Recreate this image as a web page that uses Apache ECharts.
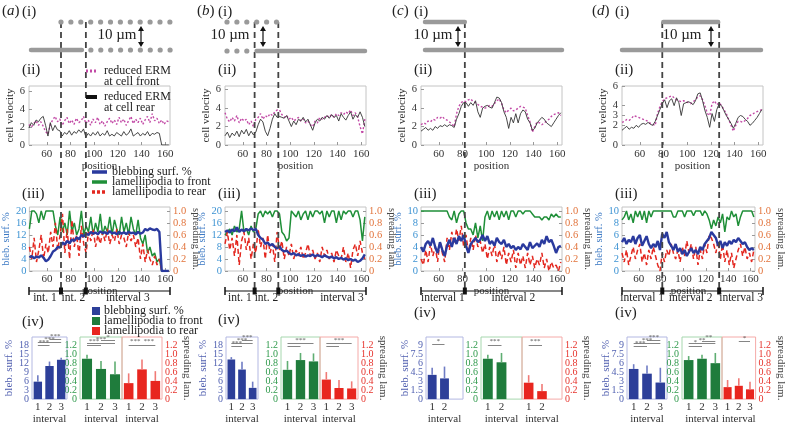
<!DOCTYPE html>
<html><head><meta charset="utf-8">
<script src="https://cdn.jsdelivr.net/npm/echarts@6/dist/echarts.min.js"></script>
<style>html,body{margin:0;padding:0;background:#fff}#c{width:787px;height:426px}</style>
</head><body><div id="c"></div>
<script>
const FONT = '"Liberation Serif","Times New Roman",serif';

// ---------- DATA ----------
const positions = [45,47,49,51,53,55,57,59,61,63,65,67,69,71,73,75,77,79,81,83,
  85,87,89,91,93,95,97,99,101,103,105,107,109,111,113,115,117,119,121,123,
  125,127,129,131,133,135,137,139,141,143,145,147,149,151,153,155,157,159,161,163];
const positionTicks = [60,80,100,120,140,160];

// (a)
const velRearA = [1.9,2.5,2.2,2.8,2.6,3.0,3.2,2.2,1.0,2.5, 1.6,2.2,1.7,1.6,1.0,1.4,1.2,1.6,1.1,1.5,
  1.3,1.7,1.4,1.8,0.9,1.3,1.0,1.4,1.1,1.5, 1.0,1.3,1.1,1.6,1.0,1.2,1.0,1.4,1.2,1.0,
  1.5,1.1,1.3,1.8,1.0,1.2,1.4,1.0,1.3,1.1, 1.5,1.0,1.3,1.2,1.4,1.3,0,0,0,0];
const velFrontA = [2.3,2.0,2.4,2.7,2.2,2.6,2.1,1.5,1.2,2.3, 2.8,3.2,2.6,2.9,2.2,2.7,3.1,2.4,2.8,2.3,
  3.0,2.5,2.7,3.2,2.4,2.8,2.2,2.9,2.5,3.1, 2.3,2.7,2.1,2.6,3.0,2.4,2.8,2.3,3.1,2.5,
  2.9,2.2,2.7,3.2,2.4,2.9,2.5,3.0,2.3,2.8, 3.2,2.5,3.5,2.7,3.0,2.4,2.8,2.3,2.7,2.6];
const blebA = [4.5,5.0,4.2,4.8,4.5,5.2,4.4,3.2,3.8,5.0, 6.5,7.0,8.0,7.8,9.5,8.8,10.0,9.2,10.5,10.0,
  11.2,10.5,12.0,11.5,12.5,12.0,13.0,12.4,12.8,12.2, 13.2,12.6,12.9,12.3,13.3,12.5,12.8,12.2,13.0,12.4,
  12.9,12.3,13.1,12.6,12.8,12.2,13.0,12.4,12.8,14.0, 13.5,14.2,13.8,13.6,14.0,13.0,0,0,0,0];
const lamFrontA = [0.7,1.0,1.0,0.95,0.8,1.0,0.85,1.0,1.0,1.0, 1.0,0.75,0.6,0.9,0.65,0.8,0.6,1.0,0.65,0.8,
  0.6,0.7,1.0,0.6,0.75,0.65,0.9,0.6,0.8,0.65, 0.95,0.6,0.75,0.65,0.9,0.6,0.85,0.7,0.6,0.9,
  0.65,0.8,0.6,0.9,0.7,0.6,0.85,0.55,0.45,0.6, 0.3,0.4,0.25,0.3,0.15,0.2,0,0,0,0];
const lamRearA = [0.4,0.2,0.55,0.15,0.35,0.6,0.2,0.45,0.3,0.65, 0.4,0.8,0.35,0.6,0.95,0.3,0.7,0.2,0.85,0.4,
  0.6,0.25,0.75,0.45,0.3,0.65,0.5,0.7,0.4,0.6, 0.45,0.65,0.5,0.7,0.45,0.6,0.5,0.7,0.45,0.6,
  0.55,0.4,0.65,0.5,0.6,0.4,0.55,0.2,0.45,0.15, 0.35,0.2,0.1,0.25,0.1,0.2,0,0,0,0];
// (b)
const velRearB = [1.0,1.4,0.8,1.3,1.0,1.5,0.9,1.6,1.2,1.7, 1.0,1.5,1.1,1.4,2.2,2.8,2.5,1.5,1.0,1.8,
  2.8,3.4,3.0,3.1,3.0,2.9,3.2,2.6,2.0,2.6, 2.2,2.8,2.6,3.0,2.5,2.8,2.2,1.6,2.4,2.8,
  2.6,3.0,2.8,3.2,2.9,3.3,3.0,3.2,2.6,3.4, 3.0,2.7,3.2,3.6,2.8,3.3,3.0,3.6,3.0,2.0];
const velFrontB = [3.5,2.8,2.5,3.0,2.6,3.2,2.4,2.9,2.6,2.8, 2.2,2.6,2.0,2.8,3.0,3.4,2.8,3.2,3.0,3.4,
  3.2,3.6,3.8,3.8,3.3,3.0,3.2,2.8,3.0,2.6, 2.8,3.0,2.6,2.8,2.4,2.6,2.2,2.0,2.6,2.4,
  3.0,2.8,3.0,3.2,3.0,3.3,3.0,3.4,3.2,3.5, 3.3,3.6,3.4,3.8,3.2,3.5,3.0,2.0,1.2,2.8];
const blebB = [13.0,13.5,12.8,13.8,13.2,14.5,13.0,13.8,13.2,14.0, 13.5,14.2,13.6,14.0,12.0,11.0,10.5,9.0,9.5,8.5,
  9.0,8.0,7.5,8.2,7.0,6.5,6.8,6.0,5.5,6.0, 5.2,5.6,5.0,5.4,4.8,5.2,5.0,5.5,4.8,5.3,
  5.0,4.6,5.2,4.8,4.4,4.8,4.2,4.6,4.0,4.4, 3.8,4.2,3.6,4.0,3.4,3.8,3.0,3.4,4.2,5.5];
const lamFrontB = [0.6,0.65,0.7,0.6,0.75,0.65,0.7,1.0,0.65,0.7, 0.6,0.75,0.65,0.7,0.95,1.0,0.9,1.0,0.95,1.0,
  0.9,1.0,1.0,0.95,0.65,0.6,0.5,0.55,1.0,0.95, 0.9,1.0,0.85,0.95,1.0,0.85,1.0,0.9,1.0,1.0,
  0.95,1.0,0.8,1.0,0.9,1.0,1.0,0.8,1.0,0.85, 1.0,0.95,1.0,1.0,0.9,1.0,1.0,0.85,0.5,0.9];
const lamRearB = [0.45,0.65,0.35,0.55,0.25,0.6,0.1,0.5,0.65,0.35, 0.55,0.2,0.45,0.3,0.7,0.4,0.55,0.2,0.6,0.3,
  0.45,0.15,0.65,0.35,0.5,0.2,0.4,0.25,0.45,0.2, 0.35,0.25,0.4,0.2,0.3,0.45,0.25,0.35,0.2,0.3,
  0.15,0.4,0.25,0.35,0.2,0.3,0.15,0.35,0.25,0.2, 0.4,0.15,0.3,0.05,0.35,0.45,0.25,0.5,0.3,0.2];
// (c)
const velRearC = [1.5,1.7,1.9,1.6,1.8,1.6,2.0,1.8,2.1,2.0, 2.2,2.0,2.2,2.1,1.9,2.8,3.4,4.2,4.6,4.6,
  4.2,4.6,4.3,4.8,3.6,3.0,4.0,4.2,4.3,4.1, 4.0,4.6,5.2,5.1,4.6,3.6,3.0,1.8,3.0,2.4,
  3.4,2.4,3.4,3.8,3.6,2.8,2.4,1.6,1.8,2.4, 2.7,3.0,2.8,2.4,2.2,2.0,2.4,2.8,3.2,3.5];
const velFrontC = [2.2,2.4,2.3,2.6,2.5,2.8,2.7,3.0,2.9,3.1, 2.8,2.7,2.5,2.3,2.0,3.4,4.2,4.6,4.8,4.7,
  4.9,5.0,4.7,4.6,4.4,4.2,4.1,4.0,4.1,4.3, 4.2,4.5,4.8,5.0,4.5,3.8,3.5,3.8,4.0,3.7,
  3.8,4.0,4.2,4.1,4.0,3.2,2.5,1.4,2.0,2.5, 2.4,2.2,2.4,2.6,2.8,3.1,3.3,3.4,3.5,3.2];
const blebC = [4.0,3.2,4.5,5.0,4.2,5.5,4.0,3.0,4.8,3.5, 2.5,4.2,5.2,4.0,5.5,4.5,5.8,5.0,6.0,4.2,
  3.0,4.5,5.0,5.5,4.8,5.2,6.0,5.0,5.8,4.5, 5.0,4.2,5.5,4.8,4.5,5.2,4.0,4.5,3.8,4.2,
  3.5,4.0,3.6,4.5,4.0,3.5,4.8,3.8,4.2,4.6, 4.0,5.2,4.5,5.8,4.8,5.2,4.2,3.0,4.0,4.2];
const lamFrontC = [1.0,1.0,1.0,1.0,1.0,1.0,1.0,1.0,1.0,1.0, 1.0,1.0,0.9,0.85,1.0,0.8,0.95,1.0,1.0,0.8,
  0.7,0.7,0.6,0.8,0.55,0.75,0.5,0.9,1.0,0.85, 1.0,0.9,1.0,0.85,1.0,0.9,1.0,0.85,1.0,1.0,
  0.9,1.0,1.0,0.95,1.0,1.0,1.0,0.95,0.9,0.9, 0.9,0.85,0.9,0.9,0.85,0.95,0.9,0.95,0.9,0.9];
const lamRearC = [0.2,0.1,0.35,0.15,0.45,0.25,0.4,0.15,0.5,0.3, 0.15,0.55,0.35,0.65,0.45,0.7,0.5,0.75,0.4,0.6,
  0.3,0.55,0.35,0.6,0.4,0.5,0.3,0.45,0.2,0.4, 0.25,0.45,0.15,0.35,0.2,0.4,0.1,0.3,0.15,0.35,
  0.05,0.3,0.1,0.25,0.05,0.3,0.1,0.25,0.05,0.2, 0.1,0.3,0.05,0.2,0.0,0.15,0.05,0.1,0.0,0.15];
// (d)
const velRearD = [1.5,1.7,1.9,1.6,1.8,1.7,2.0,1.8,2.1,2.2, 2.1,2.3,2.1,2.0,2.4,3.0,3.6,4.2,4.6,3.8,
  4.5,4.7,4.0,4.8,4.3,3.0,4.2,4.3,4.4,4.3, 4.1,4.5,5.2,5.3,4.5,3.5,2.8,1.8,3.2,2.4,
  3.6,4.2,4.0,3.5,3.0,2.6,2.2,1.7,2.2,2.8, 3.0,2.9,2.6,2.4,2.0,2.2,2.5,2.8,3.2,3.6];
const velFrontD = [2.3,2.4,2.6,2.5,2.7,3.0,2.9,2.8,2.7,2.6, 2.5,2.4,2.2,2.1,2.0,3.2,3.9,4.4,4.7,4.8,
  4.9,5.0,4.8,4.6,4.5,4.4,4.5,4.4,4.3,4.2, 4.4,4.6,4.9,5.0,4.6,4.0,3.2,3.0,4.2,4.5,
  4.1,4.3,4.0,3.6,3.2,2.6,2.0,1.4,2.0,2.4, 2.4,2.3,2.5,2.7,3.0,3.1,3.3,3.4,3.5,3.6];
const blebD = [4.8,5.5,4.5,5.2,4.8,5.8,4.5,5.5,6.0,4.2, 5.0,5.8,4.5,3.8,4.5,4.0,5.0,3.5,6.2,5.5,
  6.5,4.8,4.2,3.5,4.5,3.2,3.8,2.8,3.5,2.5, 3.2,3.8,3.0,3.5,2.8,4.0,3.5,4.5,5.0,5.5,
  6.5,6.0,5.5,4.2,5.0,3.8,4.8,4.2,5.0,4.5, 5.2,4.8,5.5,5.0,4.5,4.8,4.0,3.5,3.8,3.5];
const lamFrontD = [0.85,0.9,1.0,0.85,0.95,0.8,1.0,0.9,1.0,0.85, 1.0,0.8,1.0,0.9,1.0,1.0,1.0,1.0,1.0,1.0,
  1.0,1.0,1.0,0.9,0.9,1.0,1.0,1.0,0.9,1.0, 1.0,1.0,0.92,1.0,1.0,1.0,0.92,1.0,0.95,0.85,
  0.7,0.85,0.75,0.9,0.8,0.95,0.65,0.9,0.85,1.0, 0.9,0.95,0.75,0.9,1.0,1.0,1.0,1.0,1.0,0.9];
const lamRearD = [0.3,0.15,0.35,0.1,0.25,0.4,0.2,0.35,0.45,0.15, 0.3,0.1,0.35,0.2,0.4,0.25,0.1,0.0,0.3,0.15,
  0.35,0.25,0.45,0.3,0.2,0.35,0.15,0.4,0.25,0.5, 0.3,0.45,0.2,0.4,0.1,0.35,0.2,0.45,0.3,0.6,
  0.55,0.45,0.3,0.5,0.2,0.45,0.15,0.35,0.1,0.3, 0.05,0.2,0.35,0.45,0.25,0.4,0.2,0.3,0.15,0.35];

// interval boundaries (position units)
const boundsA = [72, 93];
const boundsB = [70, 90];
const boundsC = [82];
const boundsD = [79, 127];
const intLabelsA = ['int. 1', 'int. 2', 'interval 3'];
const intLabelsB = ['int. 1', 'int. 2', 'interval 3'];
const intLabelsC = ['interval 1', 'interval 2'];
const intLabelsD = ['interval 1', 'interval 2', 'interval 3'];

// bar charts (mean, upper error)
const intervalCats3 = ['1', '2', '3'];
const intervalCats2 = ['1', '2', ''];
const blebBarA = [5.9, 11.2, 13.3],  blebErrA = [8.1, 12.7, 14.0];
const frontBarA = [0.91, 0.68, 0.56], frontErrA = [1.0, 0.86, 0.85];
const rearBarA = [0.36, 0.67, 0.41],  rearErrA = [0.58, 0.89, 0.63];
const blebBarB = [13.4, 10.0, 3.8],  blebErrB = [14.2, 12.6, 5.9];
const frontBarB = [0.66, 0.88, 0.85], frontErrB = [0.86, 1.04, 1.03];
const rearBarB = [0.44, 0.25, 0.24],  rearErrB = [0.61, 0.43, 0.40];
const blebBarC = [4.1, 3.5],  blebErrC = [5.3, 5.5];
const frontBarC = [0.91, 0.83], frontErrC = [1.0, 1.04];
const rearBarC = [0.37, 0.18],  rearErrC = [0.54, 0.34];
const blebBarD = [5.1, 4.3, 2.8],  blebErrD = [5.9, 5.7, 5.3];
const frontBarD = [0.88, 0.91, 0.81], frontErrD = [0.97, 1.0, 1.04];
const rearBarD = [0.27, 0.30, 0.22],  rearErrD = [0.43, 0.47, 0.39];
// significance brackets [from, to, level, stars]
const sigBlebA = [[0,1,18.1,'***'],[0,2,19.2,'***'],[1,2,20.2,'***']];
const sigFrontA = [[0,1,1.22,'***'],[0,2,1.27,'***'],[1,2,1.32,'*']];
const sigRearA = [[0,1,1.22,'***'],[1,2,1.22,'***']];
const sigBlebB = [[0,1,17.8,'***'],[0,2,18.8,'***'],[1,2,19.8,'***']];
const sigFrontB = [[0,1,1.2,''],[0,2,1.26,'***']];
const sigRearB = [[0,1,1.2,''],[0,2,1.26,'***']];
const sigBlebC = [[0,1,9.2,'*']];
const sigFrontC = [[0,1,1.22,'***']];
const sigRearC = [[0,1,1.22,'***']];
const sigBlebD = [[0,1,8.9,'***'],[0,2,9.4,'***'],[1,2,9.9,'***']];
const sigFrontD = [[0,1,1.2,'*'],[0,2,1.26,'**'],[1,2,1.31,'**']];
const sigRearD = [[1,2,1.3,'*']];

// tick labels
const velTicks2 = [0,2,4,6];
const velTicks1 = [0,1,2,3,4,5,6];
const blebTicks20 = [0,4,8,12,16,20];
const blebTicks10 = [0,2,4,6,8,10];
const fracTicks10 = [0,0.2,0.4,0.6,0.8,1.0];
const barTicksBleb18 = [0,3,6,9,12,15,18];
const barTicksBleb9 = [0,1.5,3,4.5,6,7.5,9];
const barTicksFrac = [0,0.2,0.4,0.6,0.8,1.0,1.2];

// ---------- LAYOUT ----------
const cols = [
  {left:29, bounds:boundsA, ints:intLabelsA, velF:velFrontA, velR:velRearA, velMax:6.6, velTicks:velTicks2,
   bleb:blebA, lamF:lamFrontA, lamR:lamRearA, blebMax:21.3, blebTicks:blebTicks20,
   cats:intervalCats3, bars:[[blebBarA,blebErrA,sigBlebA],[frontBarA,frontErrA,sigFrontA],[rearBarA,rearErrA,sigRearA]],
   barBlebMax:21, barBlebTicks:barTicksBleb18, boxes:[[32,67],[80,122],[122,162]], ivY:322},
  {left:225, bounds:boundsB, ints:intLabelsB, velF:velFrontB, velR:velRearB, velMax:6.4, velTicks:velTicks2,
   bleb:blebB, lamF:lamFrontB, lamR:lamRearB, blebMax:21.3, blebTicks:blebTicks20,
   cats:intervalCats3, bars:[[blebBarB,blebErrB,sigBlebB],[frontBarB,frontErrB,sigFrontB],[rearBarB,rearErrB,sigRearB]],
   barBlebMax:21, barBlebTicks:barTicksBleb18, boxes:[[226,258],[281,320],[320,358]], ivY:320, lastLabelX:342},
  {left:421, bounds:boundsC, ints:intLabelsC, velF:velFrontC, velR:velRearC, velMax:6.4, velTicks:velTicks2,
   bleb:blebC, lamF:lamFrontC, lamR:lamRearC, blebMax:10.65, blebTicks:blebTicks10,
   cats:intervalCats2, bars:[[blebBarC,blebErrC,sigBlebC],[frontBarC,frontErrC,sigFrontC],[rearBarC,rearErrC,sigRearC]],
   barBlebMax:10.5, barBlebTicks:barTicksBleb9, boxes:[[426,463],[481,522],[522,562]], ivY:313},
  {left:622, bounds:boundsD, ints:intLabelsD, velF:velFrontD, velR:velRearD, velMax:6.0, velTicks:velTicks1,
   bleb:blebD, lamF:lamFrontD, lamR:lamRearD, blebMax:10.65, blebTicks:blebTicks10,
   cats:intervalCats3, bars:[[blebBarD,blebErrD,sigBlebD],[frontBarD,frontErrD,sigFrontD],[rearBarD,rearErrD,sigRearD]],
   barBlebMax:10.5, barBlebTicks:barTicksBleb9, boxes:[[627,667],[682,722],[722,763]], ivY:313}
];
const PW = 141;
const C = {
  blueBar:'#2d3f99', blueErr:'#6f7cc4', greenBar:'#1f7c3c', greenErr:'#5fae72', redBar:'#e8261f', redErr:'#f07a76',
  blueLine:'#2a3a9e', greenLine:'#1f8f38', redLine:'#e3271f', magenta:'#c24aa6', black:'#333',
  blueTick:'#3d93d3', orangeTick:'#e2743c', blueBarTick:'#5262b2', greenTick:'#2f9a4c', redTick:'#e6332c'
};
const fmt = v => (v === 0 ? '0' : (Number.isInteger(v) ? String(v) : v.toFixed(1)));
const fmtDec = v => (v === 0 ? '0' : v.toFixed(1));

const chart = echarts.init(document.getElementById('c'), null, {width:787, height:426});
const grid = [], xAxis = [], yAxis = [], series = [];
const velXIdx = [];
const TICK = 10.5, NAME = 11;

function lbl(color, extra) {
  return Object.assign({color: color, fontFamily: FONT, fontSize: TICK, hideOverlap:false, showMinLabel:true, showMaxLabel:true}, extra || {});
}
const nameStyle = (color) => ({fontFamily:FONT, fontSize:NAME, color:color || '#333'});

cols.forEach((c, ci) => {
  // (ii) velocity
  let gi = grid.length;
  grid.push({left:c.left, top:86, width:PW, height:59, show:true, borderColor:'#c4c4c4', borderWidth:1, backgroundColor:'transparent'});
  let xi = xAxis.length; velXIdx.push(xi);
  xAxis.push({type:'value', gridIndex:gi, min:45, max:164, splitLine:{show:false}, axisLine:{show:false},
    axisTick:{show:true, inside:true, length:3, customValues:positionTicks, lineStyle:{color:'#999'}},
    axisLabel:lbl('#333', {fontSize:11, margin:4, customValues:positionTicks, formatter:fmt}),
    name:'position', nameLocation:'middle', nameGap:12, nameTextStyle:nameStyle()});
  let yi = yAxis.length;
  yAxis.push({type:'value', gridIndex:gi, min:0, max:c.velMax, splitLine:{show:false}, axisLine:{show:false},
    axisTick:{show:true, inside:true, length:3, customValues:c.velTicks, lineStyle:{color:'#999'}},
    axisLabel:lbl('#333', {margin:4, customValues:c.velTicks, formatter:fmt}),
    name:'cell velocity', nameLocation:'middle', nameGap:12, nameTextStyle:nameStyle()});
  series.push({type:'line', xAxisIndex:xi, yAxisIndex:yi, showSymbol:false, data:positions.map((p,i)=>[p,c.velF[i]]),
    lineStyle:{color:C.magenta, width:1.4, type:[2,2]}, z:2});
  series.push({type:'line', xAxisIndex:xi, yAxisIndex:yi, showSymbol:false, data:positions.map((p,i)=>[p,c.velR[i]]),
    lineStyle:{color:C.black, width:0.9}, z:3});

  // (iii) blebbing / lamellipodia
  gi = grid.length;
  grid.push({left:c.left, top:207, width:PW, height:64, show:true, borderColor:'#c4c4c4', borderWidth:1, backgroundColor:'transparent'});
  xi = xAxis.length;
  xAxis.push({type:'value', gridIndex:gi, min:45, max:164, splitLine:{show:false}, axisLine:{show:false},
    axisTick:{show:true, inside:true, length:3, customValues:positionTicks, lineStyle:{color:'#999'}},
    axisLabel:lbl('#333', {fontSize:11, margin:3, customValues:positionTicks, formatter:fmt}),
    name:'position', nameLocation:'middle', nameGap:9, nameTextStyle:nameStyle()});
  const yl = yAxis.length;
  yAxis.push({type:'value', gridIndex:gi, min:0, max:c.blebMax, position:'left', splitLine:{show:false}, axisLine:{show:false},
    axisTick:{show:true, inside:true, length:3, customValues:c.blebTicks, lineStyle:{color:'#999'}},
    axisLabel:lbl(C.blueTick, {margin:3, customValues:c.blebTicks, formatter:fmt}),
    name:'bleb. surf. %', nameLocation:'middle', nameGap:16, nameTextStyle:Object.assign(nameStyle('#3a78c4'), {fontSize:10.5})});
  const yr = yAxis.length;
  yAxis.push({type:'value', gridIndex:gi, min:0, max:1.065, position:'right', splitLine:{show:false}, axisLine:{show:false},
    axisTick:{show:true, inside:true, length:3, customValues:fracTicks10, lineStyle:{color:'#999'}},
    axisLabel:lbl(C.orangeTick, {margin:3, customValues:fracTicks10, formatter:fmtDec}),
    name:'spreading lam.', nameLocation:'middle', nameGap:20, nameRotate:-90, nameTextStyle:Object.assign(nameStyle('#444'), {fontSize:10.5})});
  series.push({type:'line', xAxisIndex:xi, yAxisIndex:yr, showSymbol:false, data:positions.map((p,i)=>[p,c.lamF[i]]),
    lineStyle:{color:C.greenLine, width:1.5}, z:2});
  series.push({type:'line', xAxisIndex:xi, yAxisIndex:yr, showSymbol:false, data:positions.map((p,i)=>[p,c.lamR[i]]),
    lineStyle:{color:C.redLine, width:1.5, type:[5,3]}, z:3});
  series.push({type:'line', xAxisIndex:xi, yAxisIndex:yl, showSymbol:false, data:positions.map((p,i)=>[p,c.bleb[i]]),
    lineStyle:{color:C.blueLine, width:2.4}, z:4});

  // (iv) bars
  const kinds = [
    {bar:C.blueBar, err:C.blueErr, tick:C.blueBarTick, border:'#b3b8e2', max:c.barBlebMax, ticks:c.barBlebTicks, pos:'left', name:'bleb. surf. %', nameColor:'#4d5cae', f:fmt, gap:15},
    {bar:C.greenBar, err:C.greenErr, tick:C.greenTick, border:'#a6d7ae', max:1.4, ticks:barTicksFrac, pos:'left', name:'', f:fmtDec, gap:14},
    {bar:C.redBar, err:C.redErr, tick:C.redTick, border:'#f5aaa8', max:1.4, ticks:barTicksFrac, pos:'right', name:'spreading lam.', nameColor:'#444', f:fmtDec, gap:19}
  ];
  kinds.forEach((k, ki) => {
    const box = c.boxes[ki];
    const g2 = grid.length;
    grid.push({left:box[0], top:337, width:box[1]-box[0], height:68, show:true, borderColor:k.border, borderWidth:1, backgroundColor:'transparent'});
    const bx = xAxis.length;
    xAxis.push({type:'category', gridIndex:g2, data:c.cats, axisLine:{show:false}, axisTick:{show:false},
      axisLabel:lbl('#333', {fontSize:11, margin:3, interval:0}),
      name:'interval', nameLocation:'middle', nameGap:14, nameTextStyle:nameStyle()});
    // ticks are split over two coincident axes so that dense labels are all kept
    const evenTicks = k.ticks.filter((t, i) => i % 2 === 0);
    const oddTicks = k.ticks.filter((t, i) => i % 2 === 1);
    const by = yAxis.length;
    yAxis.push({type:'value', gridIndex:g2, min:0, max:k.max, position:k.pos, splitLine:{show:false}, axisLine:{show:false},
      axisTick:{show:false},
      axisLabel:lbl(k.tick, {fontSize:10, margin:3, customValues:evenTicks, formatter:k.f}),
      name:k.name, nameLocation:'middle', nameGap:k.gap, nameRotate:k.pos==='right'?-90:90,
      nameTextStyle:nameStyle(k.nameColor || '#333')});
    yAxis.push({type:'value', gridIndex:g2, min:0, max:k.max, position:k.pos, offset:0, splitLine:{show:false}, axisLine:{show:false},
      axisTick:{show:false},
      axisLabel:lbl(k.tick, {fontSize:10, margin:3, customValues:oddTicks, formatter:k.f})});
    const [vals, errs, sig] = c.bars[ki];
    series.push({type:'bar', xAxisIndex:bx, yAxisIndex:by, data:vals, barWidth:'72%', itemStyle:{color:k.bar}, z:2,
      markLine:{silent:true, symbol:['none','none'], animation:false,
        lineStyle:{color:'#666', width:0.8, type:'solid'},
        label:{show:true, position:'middle', formatter:'{b}', fontSize:7, color:'#555', distance:0, fontFamily:FONT},
        data: sig.map(s => [{coord:[s[0], s[2]], name:s[3]}, {coord:[s[1], s[2]]}])}});
    series.push({type:'custom', xAxisIndex:bx, yAxisIndex:by, z:3,
      data: vals.map((v,i)=>[i, v, errs[i]]),
      renderItem:(params, api) => {
        const p0 = api.coord([api.value(0), api.value(1)]);
        const p1 = api.coord([api.value(0), api.value(2)]);
        return {type:'line', shape:{x1:p0[0], y1:p0[1], x2:p1[0], y2:p1[1]}, style:{stroke:k.err, lineWidth:1.6}};
      }});
  });
});

chart.setOption({animation:false, textStyle:{fontFamily:FONT}, grid, xAxis, yAxis, series});

// ---------- ANNOTATIONS (schematics, boundaries, labels) ----------
const gfx = [];
const T = (x, y, s, o) => gfx.push({type:'text', x, y, silent:true, z:50,
  style:Object.assign({text:s, fontFamily:FONT, fontSize:15, fill:'#222', textAlign:'left', textVerticalAlign:'middle'}, o || {})});
const L = (x1, y1, x2, y2, st) => gfx.push({type:'line', silent:true, z:40, shape:{x1,y1,x2,y2}, style:Object.assign({stroke:'#222', lineWidth:1}, st || {})});
const dot = (x, y) => gfx.push({type:'circle', silent:true, z:40, shape:{cx:x, cy:y, r:2.6}, style:{fill:'#9a9a9a'}});
const dots = (xa, xb, y) => { for (let x = xa; x <= xb + 0.5; x += 9.9) dot(x, y); };
const rod = (xa, xb, y) => L(xa, y, xb, y, {stroke:'#9a9a9a', lineWidth:4.5, lineCap:'round'});
const arrow = (x) => {
  L(x, 28, x, 45, {stroke:'#111', lineWidth:1.2});
  gfx.push({type:'polygon', silent:true, z:41, shape:{points:[[x,26],[x-3,31],[x+3,31]]}, style:{fill:'#111'}});
  gfx.push({type:'polygon', silent:true, z:41, shape:{points:[[x,47],[x-3,42],[x+3,42]]}, style:{fill:'#111'}});
};

const letters = ['a','b','c','d'];
const labX = [2, 197, 392, 592];
cols.forEach((c, ci) => {
  const px = v => chart.convertToPixel({xAxisIndex: velXIdx[ci]}, v);
  const x0 = px(45), x1 = px(164);
  const b = c.bounds.map(px);
  gfx.push({type:'text', x:labX[ci], y:11, silent:true, z:50, style:{text:'{n|(}{i|' + letters[ci] + '}{n|)}', textVerticalAlign:'middle',
    rich:{n:{fontFamily:FONT, fontSize:15, fill:'#222'}, i:{fontFamily:FONT, fontSize:15, fontStyle:'italic', fill:'#222'}}}});
  T(x0 - 7, 12, '(i)');
  T(x0 - 7, 70, '(ii)');
  T(x0 - 7, 194, '(iii)');
  T(x0 - 7, c.ivY, '(iv)');
  b.forEach(bx => L(bx, 22, bx, 292, {stroke:'#444', lineWidth:1.8, lineDash:[6,4]}));
  const yI = 291;
  L(x0, yI, x1, yI, {stroke:'#111', lineWidth:1.2});
  [x0, x1].forEach(x => L(x, yI - 4, x, yI + 4, {stroke:'#111', lineWidth:1.5}));
  b.forEach(x => gfx.push({type:'rect', silent:true, z:45, shape:{x:x-2, y:yI-3.5, width:4, height:7}, style:{fill:'#111'}}));
  const edges = [x0].concat(b, [x1]);
  c.ints.forEach((s, k) => {
    let cx = (edges[k] + edges[k+1]) / 2;
    if (k === c.ints.length - 1 && c.lastLabelX) cx = c.lastLabelX;
    T(cx, 298, s, {fontSize:11.5, textAlign:'center'});
  });
  if (ci === 0) {
    dots(b[0], x1, 22);
    rod(x0 + 2, b[1] - 4, 50);
    dots(b[1] + 5, x1, 50);
    arrow(141); T(117, 35, '10 µm', {textAlign:'center'});
  } else if (ci === 1) {
    dots(x0 + 2, b[1] - 2, 22);
    dots(x0 + 2, b[0] - 7, 51);
    rod(b[0] + 2, x1 - 1, 51);
    arrow(263); T(230, 35, '10 µm', {textAlign:'center'});
  } else if (ci === 2) {
    rod(x0 + 4, b[0], 22);
    rod(x0 + 4, x1, 50);
    arrow(458); T(433, 35, '10 µm', {textAlign:'center'});
  } else {
    rod(b[0] + 1, b[1] - 1, 22);
    rod(x0, x1 - 2, 50);
    arrow(711); T(682, 35, '10 µm', {textAlign:'center'});
  }
});

// legends in column (a)
L(86, 71, 97, 71, {stroke:C.magenta, lineWidth:3, lineDash:[2,2]});
T(104, 71, 'reduced ERM', {fontSize:12});
T(104, 82, 'at cell front', {fontSize:12});
L(86, 97, 97, 97, {stroke:'#111', lineWidth:4});
T(104, 97, 'reduced ERM', {fontSize:12});
T(104, 108, 'at cell rear', {fontSize:12});

L(92, 172, 107, 172, {stroke:C.blueLine, lineWidth:3.5});
T(112, 172, 'blebbing surf. %', {fontSize:12});
L(92, 182, 107, 182, {stroke:C.greenLine, lineWidth:3.5});
T(112, 182, 'lamellipodia to front', {fontSize:12});
L(92, 192, 107, 192, {stroke:C.redLine, lineWidth:3.5, lineDash:[3,2]});
T(112, 192, 'lamellipodia to rear', {fontSize:12});

[[C.blueBar, 311, 'blebbing surf. %'], [C.greenBar, 321, 'lamellipodia to front'], [C.redBar, 331, 'lamellipodia to rear']].forEach(r => {
  gfx.push({type:'rect', silent:true, z:45, shape:{x:92, y:r[1]-4, width:8, height:8}, style:{fill:r[0]}});
  T(104, r[1], r[2], {fontSize:12});
});

chart.setOption({graphic: gfx});
</script></body></html>
